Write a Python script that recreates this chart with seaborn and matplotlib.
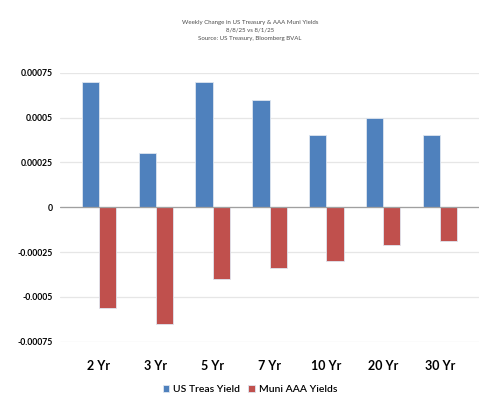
import matplotlib
matplotlib.use("Agg")
import matplotlib.pyplot as plt
import seaborn as sns
import pandas as pd

categories = ["2 Yr", "3 Yr", "5 Yr", "7 Yr", "10 Yr", "20 Yr", "30 Yr"]
us_treas = [0.0007, 0.0003, 0.0007, 0.0006, 0.0004, 0.0005, 0.0004]
muni_aaa = [-0.00056, -0.00065, -0.0004, -0.00034, -0.0003, -0.00021, -0.00019]
series_names = ["US Treas Yield", "Muni AAA Yields"]
yticks = [-0.00075, -0.0005, -0.00025, 0, 0.00025, 0.0005, 0.00075]
ytick_labels = ["-0.00075", "-0.0005", "-0.00025", "0", "0.00025", "0.0005", "0.00075"]

df = pd.DataFrame({
    "cat": categories * 2,
    "val": us_treas + muni_aaa,
    "series": [series_names[0]] * len(categories) + [series_names[1]] * len(categories),
})

sns.set_theme(style="white")
plt.rcParams['font.family'] = ['Lato', 'DejaVu Sans']

fig = plt.figure(figsize=(5.0, 4.17), dpi=100)
ax = fig.add_axes([0.12, 0.1806, 0.838, 0.645])

palette = {series_names[0]: "#4F81BD", series_names[1]: "#C0504D"}
sns.barplot(data=df, x="cat", y="val", hue="series", palette=palette,
            width=0.6, gap=0, ax=ax, saturation=1, edgecolor="#dfe6f0", linewidth=0.6,
            legend=True)

ax.set_ylim(-0.00075, 0.00075)
ax.set_xlim(-0.68, len(categories) - 0.32)
ax.set_yticks(yticks)
ax.set_yticklabels(ytick_labels, fontsize=6.2, fontweight="bold", color="#000000")
ax.tick_params(axis="y", length=0, pad=5)
ax.tick_params(axis="x", length=0, pad=13)
for lbl in ax.get_xticklabels():
    lbl.set_fontsize(9)
    lbl.set_fontweight("bold")
    lbl.set_color("#000000")
ax.set_xlabel("")
ax.set_ylabel("")
for s in ax.spines.values():
    s.set_visible(False)
ax.grid(axis="y", color="#e6e6e6", linewidth=0.9)
ax.set_axisbelow(True)
ax.axhline(0, color="#a0a0a0", linewidth=0.9, zorder=3)

handles, labels = ax.get_legend_handles_labels()
ax.get_legend().remove()
leg = fig.legend(handles, labels, loc="center", bbox_to_anchor=(0.5, 0.065), ncol=2, frameon=False,
                 fontsize=7.5, handlelength=0.6, handleheight=0.6, handletextpad=0.4,
                 columnspacing=0.8)
for t in leg.get_texts():
    t.set_fontweight("semibold")
    t.set_color("#000000")

fig.text(0.5, 0.953, "Weekly Change in US Treasury & AAA Muni Yields\n8/8/25 vs 8/1/25\nSource: US Treasury, Bloomberg BVAL",
         ha="center", va="top", fontsize=4.4, color="#4d4d4d", linespacing=1.75)

fig.savefig("out.png", dpi=100)
